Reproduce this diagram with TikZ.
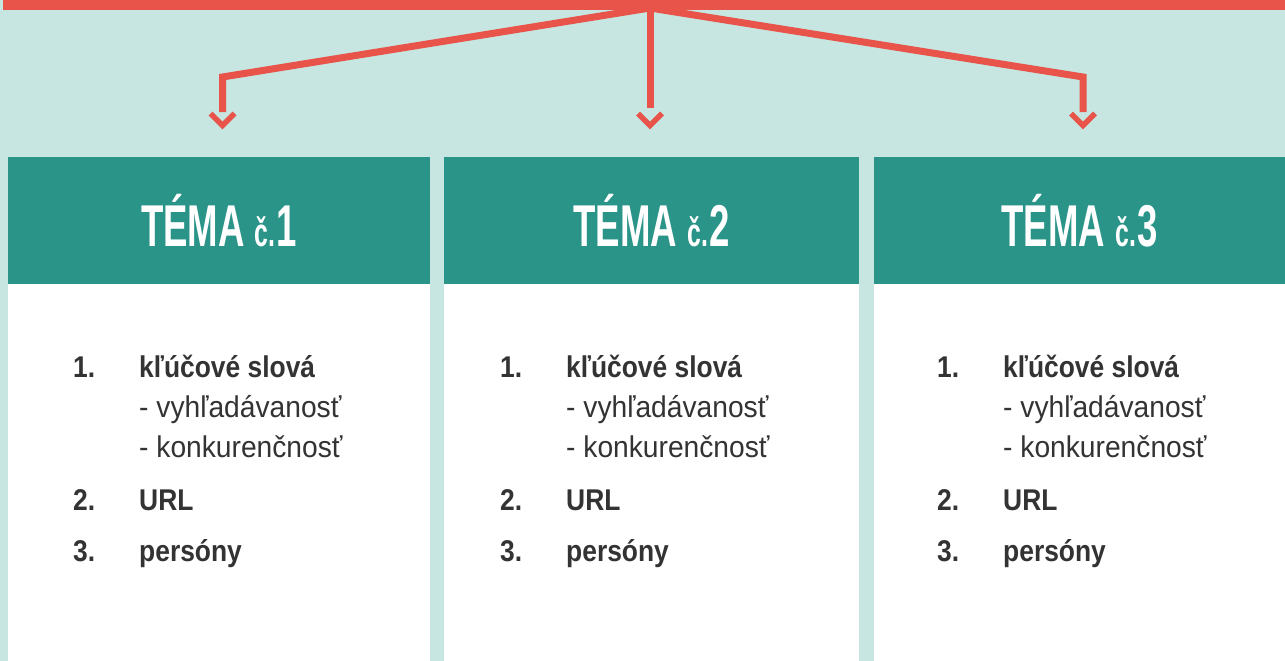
\documentclass[tikz,border=0pt]{standalone}
\usepackage{fontspec}
\usetikzlibrary{calc}
\setmainfont{Liberation Sans}
\newfontfamily\headfont[FakeStretch=0.62]{Liberation Sans}
\newfontfamily\boldcond[FakeStretch=0.88]{Liberation Sans}
\newfontfamily\regcond[FakeStretch=0.94]{Liberation Sans}
\definecolor{bgteal}{HTML}{C7E6E1}
\definecolor{redline}{HTML}{E8544A}
\definecolor{headteal}{HTML}{2A9488}
\definecolor{txt}{HTML}{333333}
\begin{document}
\begin{tikzpicture}[x=1pt,y=-1pt,
  conn/.style={draw=redline, line width=7pt, line join=miter},
  chev/.style={draw=redline, line width=5.5pt, line join=miter},
  headbox/.style={fill=headteal, text=white, minimum height=127pt, inner sep=0pt, outer sep=0pt, anchor=north west,
    font=\headfont\bfseries\fontsize{59}{59}\selectfont},
  bodybox/.style={fill=white, minimum height=377pt, inner sep=0pt, outer sep=0pt, anchor=north west},
  numtext/.style={anchor=base west, inner sep=0pt, text=txt, font=\boldcond\bfseries\fontsize{30}{30}\selectfont},
  itemtext/.style={anchor=base west, inner sep=0pt, text=txt, font=\boldcond\bfseries\fontsize{30}{30}\selectfont},
  subtext/.style={anchor=base west, inner sep=0pt, text=txt, font=\regcond\fontsize{30}{30}\selectfont}
]
\useasboundingbox (0,0) rectangle (1285,661);
\fill[bgteal] (0,0) rectangle (1285,661);

% columns
\foreach \i/\x/\w/\nx in {1/8/422/73, 2/444/415/500, 3/874/411/937}{
  \node[headbox, minimum width=\w pt] (h\i) at (\x,157) {TÉMA {\fontsize{40}{40}\selectfont č.}\kern1pt\i};
  \node[bodybox, minimum width=\w pt] (b\i) at (\x,284) {};
  \node[numtext] (n\i-1) at (\nx,377) {1.};
  \node[itemtext] (t\i-1) at (\nx+66,377) {kľúčové slová};
  \node[subtext] (s\i-1) at (\nx+66,417) {- vyhľadávanosť};
  \node[subtext] (s\i-2) at (\nx+66,457) {- konkurenčnosť};
  \node[numtext] (n\i-2) at (\nx,510) {2.};
  \node[itemtext] (t\i-2) at (\nx+66,510) {URL};
  \node[numtext] (n\i-3) at (\nx,561) {3.};
  \node[itemtext] (t\i-3) at (\nx+66,561) {persóny};
}

% connectors
\coordinate (hub) at (650,8);
\coordinate (k1) at (222.5,77);
\coordinate (k3) at (1083,77);
\coordinate (e1) at (222.5,112);
\coordinate (e2) at (650,108);
\coordinate (e3) at (1083,112);
\draw[conn] (hub) -- (k1) -- (e1);
\draw[conn] (hub) -- (e2);
\draw[conn] (hub) -- (k3) -- (e3);
\draw[chev] ($(e1)+(-12,1.5)$) -- ++(12,12) -- ++(12,-12);
\draw[chev] ($(e2)+(-12,5.5)$) -- ++(12,12) -- ++(12,-12);
\draw[chev] ($(e3)+(-12,1.5)$) -- ++(12,12) -- ++(12,-12);

% top bar
\fill[redline] (3,0) rectangle (1285,10.5);
\end{tikzpicture}
\end{document}
